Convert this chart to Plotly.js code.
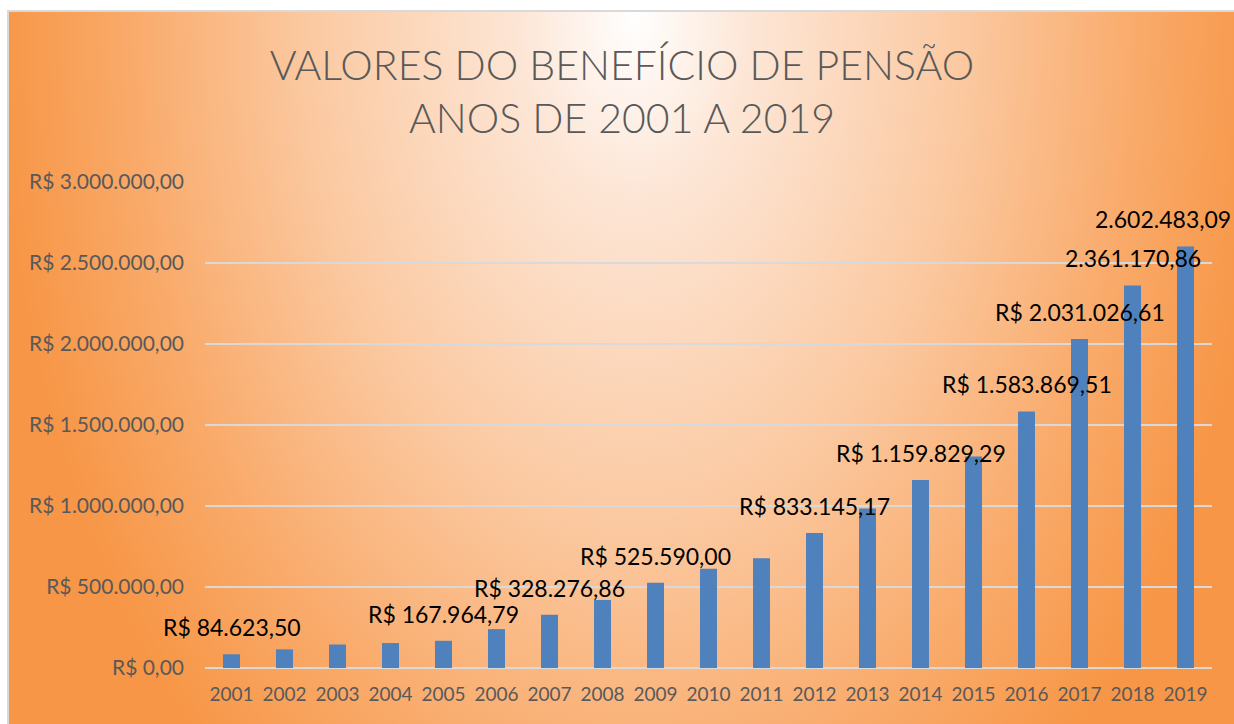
<!DOCTYPE html>
<html><head><meta charset="utf-8">
<script src="https://cdn.plot.ly/plotly-3.0.1.min.js"></script>
<style>
html,body{margin:0;padding:0;width:1234px;height:724px;overflow:hidden;background:#ffffff;}
#frame{position:absolute;left:7px;top:10px;width:1240px;height:730px;border-left:2px solid #d9d9d9;border-top:2px solid #d9d9d9;
background:radial-gradient(ellipse 640px 1000px at 626px 0px,#ffffff 0%,#fde6d6 18%,#fbcaa3 50%,#f9a968 80%,#f79646 100%);}
#chart{position:absolute;left:0;top:0;width:1234px;height:724px;}
</style></head><body>
<div id="frame"></div><div id="chart"></div>
<script>
const years = ['2001','2002','2003','2004','2005','2006','2007','2008','2009','2010',
               '2011','2012','2013','2014','2015','2016','2017','2018','2019'];
const values = [84623.50, 115000, 145000, 154000, 167964.79, 240000, 328276.86, 420000, 525590.00, 612000,
                678000, 833145.17, 985000, 1159829.29, 1305000, 1583869.51, 2031026.61, 2361170.86, 2602483.09];
const labelYears = ['2001','2005','2007','2009','2012','2014','2016','2017','2018','2019'];
const labelPrefix = ['R$ ','R$ ','R$ ','R$ ','R$ ','R$ ','R$ ','R$ ','',''];
const titleLines = ['VALORES DO BENEFÍCIO DE PENSÃO','ANOS DE 2001 A 2019'];

function fmtBR(v){
  const parts = v.toFixed(2).split('.');
  return parts[0].replace(/\B(?=(\d{3})+(?!\d))/g,'.') + ',' + parts[1];
}

const FONT = 'Lato, "Open Sans", sans-serif';
const annotations = labelYears.map((y,i)=>{
  const idx = years.indexOf(y);
  const v = values[idx];
  const last = i === labelYears.length-1;
  return {
    x: idx, y: v, xref:'x', yref:'y',
    text: labelPrefix[i] + fmtBR(v),
    showarrow:false,
    xanchor: last ? 'right' : 'center',
    xshift: last ? 47 : 0,
    yanchor:'bottom', yshift: 11,
    font:{family:FONT, size:23, color:'#000000'}
  };
});

const trace = {
  type:'bar', x:years, y:values,
  marker:{color:'#4f81bd', line:{width:0}},
  hoverinfo:'x+y'
};

const layout = {
  width:1234, height:724,
  paper_bgcolor:'rgba(0,0,0,0)', plot_bgcolor:'rgba(0,0,0,0)',
  margin:{l:205, r:22, t:182, b:56},
  separators:',.',
  bargap:0.68,
  showlegend:false,
  title:{text:titleLines.join('<br>'), font:{family:FONT, size:41, color:'#595959', weight:300},
         xref:'container', x:0.504, xanchor:'center', yref:'container', y:1-80/724, yanchor:'top'},
  xaxis:{type:'category', range:[-0.5, years.length-0.5], autorange:false,
         showgrid:false, zeroline:false, showline:false, ticks:'',
         ticklabelstandoff:13,
         tickfont:{family:FONT, size:19, color:'#595959'}},
  yaxis:{range:[0,3000000], autorange:false, dtick:500000, tick0:0, tickformat:',.2f', tickprefix:'R$ ',
         showgrid:true, gridcolor:'#d9d9d9', gridwidth:2, zeroline:true, zerolinecolor:'#d9d9d9', zerolinewidth:2,
         showline:false, ticks:'', ticklabelstandoff:20,
         tickfont:{family:FONT, size:21, color:'#595959'}},
  annotations:annotations
};

Plotly.newPlot('chart',[trace],layout,{displayModeBar:false, staticPlot:true});
</script>
</body></html>
